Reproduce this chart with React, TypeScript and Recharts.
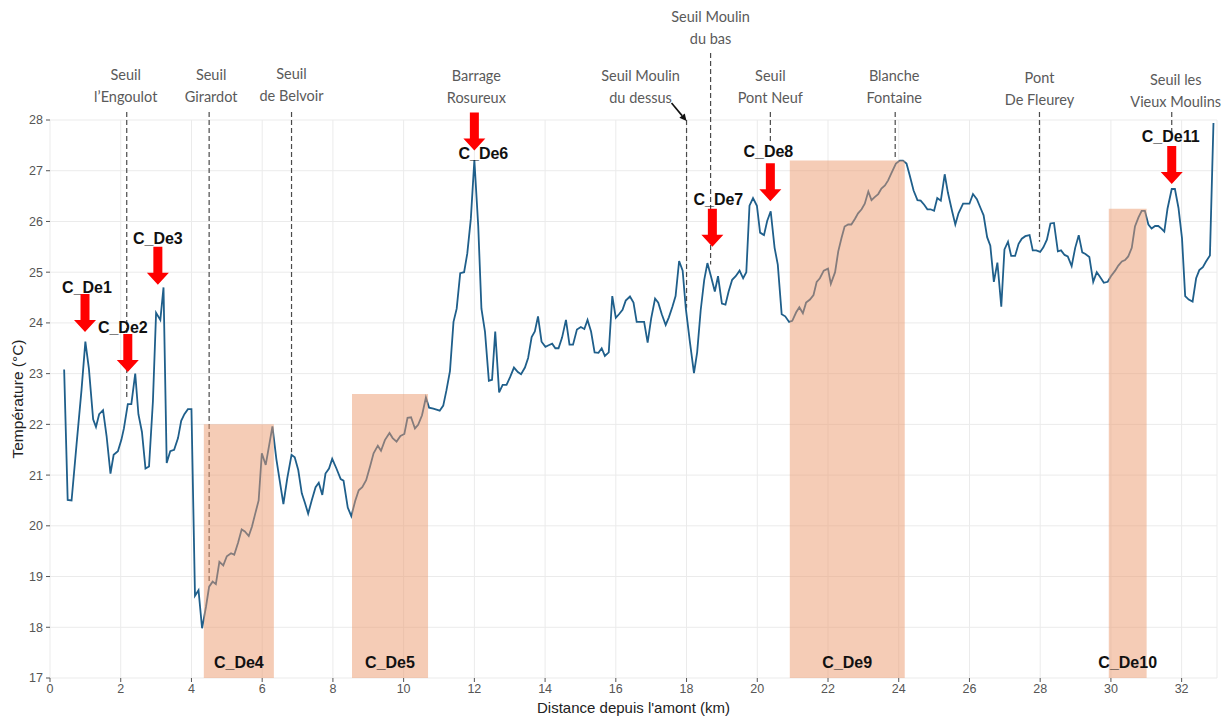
import React from 'react';
import {
  LineChart,
  Line,
  XAxis,
  YAxis,
  CartesianGrid,
  ReferenceArea,
  ReferenceLine,
  ReferenceDot,
} from 'recharts';

// Water temperature profile along the river (km from upstream, °C)
const distanceKm = [
  0.4, 0.5, 0.61, 0.75, 0.89, 1.0, 1.1, 1.22, 1.3, 1.39, 1.5, 1.6, 1.71, 1.8, 1.92, 2.02, 2.09, 2.2, 2.3, 2.41,
  2.5, 2.6, 2.7, 2.8, 2.91, 3.0, 3.12, 3.21, 3.3, 3.4, 3.51, 3.62, 3.71, 3.8, 3.9, 4.0, 4.1, 4.2, 4.3, 4.41,
  4.5, 4.6, 4.69, 4.79, 4.9, 5.0, 5.12, 5.21, 5.32, 5.42, 5.51, 5.62, 5.71, 5.8, 5.9, 5.99, 6.1, 6.2, 6.29, 6.4,
  6.5, 6.6, 6.71, 6.83, 6.92, 7.02, 7.12, 7.21, 7.3, 7.4, 7.51, 7.6, 7.7, 7.79, 7.89, 7.98, 8.1, 8.22, 8.3, 8.42,
  8.52, 8.63, 8.73, 8.83, 8.94, 9.05, 9.15, 9.27, 9.36, 9.47, 9.6, 9.69, 9.8, 9.91, 10.02, 10.11, 10.21, 10.32, 10.41, 10.52,
  10.63, 10.72, 10.84, 10.93, 11.02, 11.12, 11.21, 11.31, 11.41, 11.5, 11.6, 11.71, 11.8, 11.9, 12.0, 12.11, 12.2, 12.3, 12.41, 12.5,
  12.59, 12.7, 12.8, 12.91, 13.01, 13.12, 13.23, 13.32, 13.43, 13.52, 13.62, 13.71, 13.8, 13.9, 14.01, 14.1, 14.2, 14.29, 14.38, 14.48,
  14.59, 14.69, 14.79, 14.9, 15.01, 15.11, 15.2, 15.3, 15.4, 15.51, 15.6, 15.69, 15.8, 15.9, 16.0, 16.09, 16.19, 16.28, 16.4, 16.5,
  16.59, 16.69, 16.8, 16.9, 17.0, 17.11, 17.2, 17.3, 17.41, 17.5, 17.6, 17.69, 17.79, 17.89, 17.98, 18.09, 18.21, 18.3, 18.4, 18.5,
  18.59, 18.69, 18.8, 18.89, 19.0, 19.1, 19.19, 19.29, 19.39, 19.5, 19.6, 19.69, 19.78, 19.88, 19.99, 20.08, 20.19, 20.28, 20.38, 20.49,
  20.58, 20.69, 20.79, 20.9, 20.99, 21.1, 21.19, 21.29, 21.38, 21.49, 21.59, 21.68, 21.77, 21.88, 22.0, 22.08, 22.2, 22.29, 22.38, 22.47,
  22.57, 22.66, 22.76, 22.85, 22.95, 23.04, 23.14, 23.23, 23.32, 23.42, 23.51, 23.61, 23.7, 23.79, 23.92, 24.03, 24.12, 24.22, 24.31, 24.42,
  24.53, 24.62, 24.72, 24.81, 24.9, 25.0, 25.09, 25.19, 25.3, 25.39, 25.51, 25.6, 25.69, 25.82, 25.91, 26.0, 26.1, 26.21, 26.31, 26.4,
  26.5, 26.59, 26.69, 26.79, 26.9, 26.99, 27.09, 27.18, 27.29, 27.39, 27.48, 27.58, 27.7, 27.79, 27.89, 28.0, 28.09, 28.19, 28.29, 28.39,
  28.5, 28.59, 28.69, 28.78, 28.89, 28.99, 29.09, 29.19, 29.28, 29.39, 29.5, 29.6, 29.69, 29.8, 29.91, 30.0, 30.12, 30.21, 30.31, 30.4,
  30.49, 30.59, 30.68, 30.78, 30.87, 30.96, 31.06, 31.15, 31.25, 31.34, 31.43, 31.51, 31.6, 31.72, 31.81, 31.91, 32.01, 32.1, 32.2, 32.31,
  32.41, 32.5, 32.6, 32.69, 32.8, 32.9,
];

const temperature = [
  23.08, 20.51, 20.5, 21.6, 22.67, 23.63, 23.1, 22.1, 21.95, 22.2, 22.28, 21.77, 21.03, 21.4, 21.47, 21.7, 21.92, 22.4, 22.4, 23.0,
  22.2, 21.85, 21.13, 21.17, 22.45, 24.2, 24.06, 24.7, 21.24, 21.47, 21.5, 21.73, 22.07, 22.2, 22.3, 22.3, 18.62, 18.73, 17.98, 18.4,
  18.8, 18.9, 18.85, 19.29, 19.22, 19.4, 19.46, 19.43, 19.67, 19.93, 19.89, 19.8, 19.98, 20.23, 20.5, 21.43, 21.2, 21.6, 21.96, 21.32,
  20.87, 20.43, 20.94, 21.4, 21.35, 21.1, 20.64, 20.45, 20.24, 20.5, 20.76, 20.85, 20.61, 21.03, 21.13, 21.32, 21.13, 20.92, 20.89, 20.36,
  20.19, 20.49, 20.7, 20.76, 20.9, 21.17, 21.43, 21.58, 21.48, 21.69, 21.83, 21.73, 21.66, 21.77, 21.81, 22.13, 22.14, 21.92, 21.99, 22.18,
  22.53, 22.33, 22.31, 22.29, 22.27, 22.37, 22.67, 23.05, 24.02, 24.28, 24.98, 25.0, 25.37, 26.05, 27.21, 25.9, 24.28, 23.83, 22.86, 22.88,
  23.83, 22.63, 22.78, 22.78, 22.93, 23.12, 23.03, 22.99, 23.12, 23.31, 23.72, 23.83, 24.13, 23.63, 23.53, 23.56, 23.59, 23.5, 23.5, 23.71,
  24.06, 23.57, 23.57, 23.87, 23.92, 23.88, 24.06, 23.83, 23.42, 23.41, 23.5, 23.35, 23.42, 24.53, 24.1, 24.17, 24.26, 24.44, 24.52, 24.4,
  24.02, 24.02, 24.02, 23.61, 24.09, 24.48, 24.4, 24.17, 23.96, 24.11, 24.32, 24.53, 25.22, 25.03, 24.28, 23.65, 23.01, 23.42, 24.25, 24.85,
  25.18, 24.92, 24.62, 24.92, 24.38, 24.36, 24.62, 24.85, 24.92, 25.03, 24.88, 25.0, 26.31, 26.46, 26.31, 25.78, 25.73, 26.01, 26.2, 25.48,
  25.15, 24.17, 24.13, 24.02, 24.04, 24.21, 24.31, 24.19, 24.4, 24.46, 24.55, 24.81, 24.88, 25.03, 25.07, 24.77, 25.0, 25.41, 25.67, 25.9,
  25.94, 25.94, 26.05, 26.16, 26.24, 26.35, 26.59, 26.42, 26.48, 26.54, 26.65, 26.71, 26.81, 26.95, 27.14, 27.2, 27.2, 27.14, 26.91, 26.61,
  26.42, 26.41, 26.33, 26.24, 26.24, 26.21, 26.46, 26.41, 26.93, 26.57, 26.2, 25.94, 26.16, 26.35, 26.35, 26.35, 26.54, 26.44, 26.27, 26.12,
  25.69, 25.52, 24.81, 25.19, 24.32, 25.45, 25.6, 25.32, 25.32, 25.56, 25.66, 25.71, 25.73, 25.43, 25.43, 25.4, 25.49, 25.64, 25.96, 25.97,
  25.41, 25.43, 25.34, 25.31, 25.12, 25.48, 25.73, 25.39, 25.36, 25.3, 24.81, 25.0, 24.91, 24.79, 24.81, 24.92, 25.03, 25.13, 25.21, 25.24,
  25.31, 25.48, 25.9, 26.08, 26.21, 26.21, 25.94, 25.86, 25.91, 25.91, 25.86, 25.8, 26.25, 26.64, 26.64, 26.27, 25.67, 24.53, 24.46, 24.42,
  24.88, 25.04, 25.1, 25.21, 25.33, 27.94,
];

// Weirs, dams and bridges along the reach
const siteNames = [
  ['Seuil', 'l’Engoulot'],
  ['Seuil', 'Girardot'],
  ['Seuil', 'de Belvoir'],
  ['Barrage', 'Rosureux'],
  ['Seuil Moulin', 'du dessus'],
  ['Seuil Moulin', 'du bas'],
  ['Seuil', 'Pont Neuf'],
  ['Blanche', 'Fontaine'],
  ['Pont', 'De Fleurey'],
  ['Seuil les', 'Vieux Moulins'],
];
const siteKm = [2.17, 4.5, 6.83, 12.0, 18.0, 18.68, 20.37, 23.9, 27.98, 31.72];
const siteLineFrom = [28.16, 28.16, 28.16, 28.14, 28.0, 29.32, 28.16, 28.16, 28.16, 28.16];
const siteLineTo = [22.5, 18.9, 21.45, 28.04, 24.3, 25.15, 27.55, 27.22, 25.6, 27.75];

// Warm zones (shaded)
const zoneNames = ['C_De4', 'C_De5', 'C_De9', 'C_De10'];
const zoneFromKm = [4.35, 8.54, 20.92, 29.94];
const zoneToKm = [6.33, 10.69, 24.17, 31.01];
const zoneTopTemp = [22.0, 22.6, 27.2, 26.25];

// Hot spots (red arrows)
const spotNames = ['C_De1', 'C_De2', 'C_De3', 'C_De6', 'C_De7', 'C_De8', 'C_De11'];
const spotKm = [0.99, 2.2, 3.05, 12.0, 18.73, 20.37, 31.72];
const spotTipTemp = [23.82, 23.03, 24.75, 27.4, 25.5, 26.4, 26.74];

const xTicks = [0, 2, 4, 6, 8, 10, 12, 14, 16, 18, 20, 22, 24, 26, 28, 30, 32];
const yTicks = [17, 18, 19, 20, 21, 22, 23, 24, 25, 26, 27, 28];

// label placement (px offsets from the anchor)
const siteLabelShift = [[-1, -46], [2, -46], [0, -47], [2, -45], [-46, -45], [0, -104], [0, -45], [-1, -45], [0, -43], [4, -41]];
const spotLabelShift = [[2, -45], [-5, -45], [0, -46], [9, 3], [6, -47], [-2, -50], [-1, -47]];

const data = distanceKm.map((km, i) => ({ km, temp: temperature[i] }));

const AXIS_FONT = '"Liberation Sans", Arial, sans-serif';
const NOTE_FONT = 'Lato, "Noto Sans", sans-serif';

const RedArrow = (props: any) => {
  const { cx, cy, name, dx, dy } = props;
  const pts = [
    [cx - 4.5, cy - 38], [cx + 4.5, cy - 38], [cx + 4.5, cy - 12], [cx + 11, cy - 12],
    [cx, cy], [cx - 11, cy - 12], [cx - 4.5, cy - 12],
  ].map((p) => p.join(',')).join(' ');
  return (
    <g>
      <text x={cx + dx} y={cy + dy} textAnchor="middle" dominantBaseline="central"
        fontFamily={AXIS_FONT} fontWeight="bold" fontSize={16} fill="#111">{name}</text>
      <polygon points={pts} fill="#ff0000" />
    </g>
  );
};

const SiteLabel = (props: any) => {
  const { cx, cy, lines, dx, dy, pointer } = props;
  let head = null;
  if (pointer) {
    // small black arrow from the text to the top of the dashed line
    const sx = cx - 15, sy = cy - 17, tx = cx, ty = cy + 1;
    const len = Math.hypot(tx - sx, ty - sy);
    const ux = (tx - sx) / len, uy = (ty - sy) / len;
    const bx = tx - ux * 7, by = ty - uy * 7;
    head = (
      <g>
        <line x1={sx} y1={sy} x2={bx} y2={by} stroke="#111" strokeWidth={1.6} />
        <polygon points={`${tx},${ty} ${bx - uy * 3.5},${by + ux * 3.5} ${bx + uy * 3.5},${by - ux * 3.5}`} fill="#111" />
      </g>
    );
  }
  return (
    <g>
      {lines.map((t: string, k: number) => (
        <text key={k} x={cx + dx} y={cy + dy + k * 22} textAnchor="middle" dominantBaseline="central"
          fontFamily={NOTE_FONT} fontSize={14.5} fill="#5a5a5a">{t}</text>
      ))}
      {head}
    </g>
  );
};

const YTitle = (props: any) => {
  const vb = props.viewBox || { x: 0, y: 120, width: 50, height: 558 };
  const x = 17;
  const y = vb.y + vb.height / 2;
  return (
    <text x={x} y={y} transform={`rotate(-90 ${x} ${y})`} textAnchor="middle" dominantBaseline="central"
      fontFamily={AXIS_FONT} fontSize={15.5} fill="#222">Température (°C)</text>
  );
};

const XTitle = (props: any) => {
  const vb = props.viewBox || { x: 50, y: 678, width: 1167, height: 39 };
  return (
    <text x={vb.x + vb.width / 2} y={vb.y + 29} textAnchor="middle" dominantBaseline="central"
      fontFamily={AXIS_FONT} fontSize={15} fill="#222">Distance depuis l'amont (km)</text>
  );
};

export default function App() {
  return (
    <div style={{ position: 'absolute', left: 0, top: 0, width: 1227, height: 717, background: '#fff' }}>
      <LineChart width={1227} height={717} data={data} margin={{ top: 120, right: 10, bottom: 0, left: 0 }}
        style={{ overflow: 'visible' }}>
        <CartesianGrid stroke="#ebebeb" strokeWidth={1} />
        <XAxis
          type="number"
          dataKey="km"
          domain={[0, 33]}
          ticks={xTicks}
          allowDataOverflow
          height={39}
          axisLine={false}
          tickSize={4}
          tickMargin={2}
          tickLine={{ stroke: '#555' }}
          tick={{ fill: '#555', fontSize: 12.5, fontFamily: AXIS_FONT }}
          label={XTitle}
        />
        <YAxis
          type="number"
          domain={[17, 28]}
          ticks={yTicks}
          allowDataOverflow
          width={50}
          axisLine={false}
          tickSize={4}
          tickMargin={3}
          tickLine={{ stroke: '#555' }}
          tick={{ fill: '#555', fontSize: 12.5, fontFamily: AXIS_FONT }}
          label={YTitle}
        />
        {siteKm.map((km, i) => (
          <ReferenceLine
            key={`site-line-${i}`}
            segment={[{ x: km, y: siteLineFrom[i] }, { x: km, y: siteLineTo[i] }]}
            ifOverflow="visible"
            stroke="#4a4a4a"
            strokeWidth={1.2}
            strokeDasharray="5 3"
          />
        ))}
        <Line type="linear" dataKey="temp" stroke="#1f5f8b" strokeWidth={1.8} dot={false} isAnimationActive={false} />
        {zoneNames.map((name, i) => (
          <ReferenceArea
            key={name}
            x1={zoneFromKm[i]}
            x2={zoneToKm[i]}
            y1={17}
            y2={zoneTopTemp[i]}
            fill="#ec9a6e"
            fillOpacity={0.5}
            stroke="none"
            zIndex={500}
            label={{ value: name, position: 'insideBottom', offset: 10, fill: '#111', fontSize: 16, fontWeight: 'bold', fontFamily: AXIS_FONT }}
          />
        ))}
        {siteKm.map((km, i) => (
          <ReferenceDot
            key={`site-label-${i}`}
            x={km}
            y={28}
            ifOverflow="visible"
            zIndex={600}
            shape={(p: any) => (
              <SiteLabel cx={p.cx} cy={p.cy} lines={siteNames[i]} dx={siteLabelShift[i][0]} dy={siteLabelShift[i][1]} pointer={i === 4} />
            )}
          />
        ))}
        {spotNames.map((name, i) => (
          <ReferenceDot
            key={name}
            x={spotKm[i]}
            y={spotTipTemp[i]}
            ifOverflow="visible"
            zIndex={600}
            shape={(p: any) => (
              <RedArrow cx={p.cx} cy={p.cy} name={name} dx={spotLabelShift[i][0]} dy={spotLabelShift[i][1]} />
            )}
          />
        ))}
      </LineChart>
    </div>
  );
}
